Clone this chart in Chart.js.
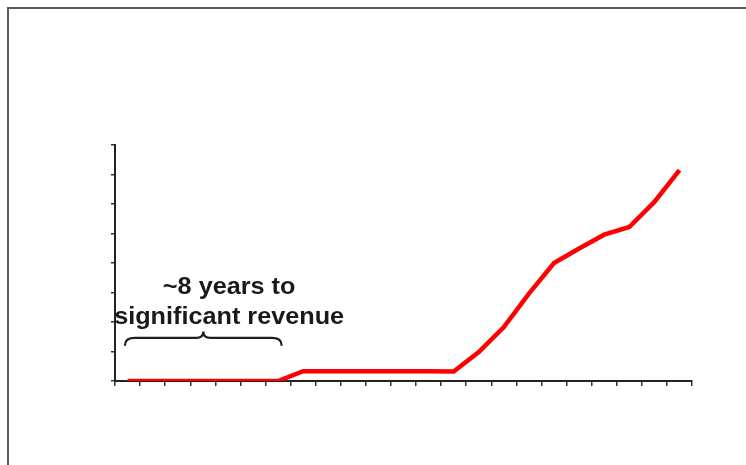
<!DOCTYPE html>
<html>
<head>
<meta charset="utf-8">
<script src="https://cdn.jsdelivr.net/npm/chart.js@4.4.1/dist/chart.umd.min.js"></script>
<style>
  html, body { margin: 0; padding: 0; background: #fff; }
  #wrap { position: relative; width: 746px; height: 465px; overflow: hidden; }
  #frame { position: absolute; left: 7px; top: 7px; width: 800px; height: 500px;
           border-left: 2px solid #5c5c5c; border-top: 2px solid #5c5c5c; }
  canvas { position: absolute; left: 0; top: 0; }
</style>
</head>
<body>
<div id="wrap">
  <div id="frame"></div>
  <canvas id="revenueChart" width="746" height="465"></canvas>
</div>
<script>
// yearly revenue curve (arbitrary units)
const years = ['1','2','3','4','5','6','7','8','9','10','11','12','13','14','15','16','17','18','19','20','21','22','23'];
const revenue = [0, 0, 0, 0, 0, 0, 0, 0.33, 0.33, 0.33, 0.33, 0.33, 0.33, 0.32, 0.98, 1.83, 2.96, 4.0, 4.49, 4.96, 5.22, 6.07, 7.15];
const yMax = 8;
const yStep = 1;
const noteLines = ['~8 years to', 'significant revenue'];
const braceFrom = 0;   // first year under the brace
const braceTo = 6;     // last year under the brace

const braceNote = {
    id: 'braceNote',
    afterDraw(chart) {
        const ctx = chart.ctx;
        const xs = chart.scales.x;
        const ys = chart.scales.y;

        // curly brace over the flat start of the curve
        const x0 = xs.getPixelForValue(braceFrom) - 2.5;
        const x1 = xs.getPixelForValue(braceTo) + 3.5;
        const xm = (x0 + x1) / 2;
        const yEnd = ys.getPixelForValue(1.22);
        const yBar = ys.getPixelForValue(1.46);
        const yTip = ys.getPixelForValue(1.68);
        ctx.save();
        ctx.strokeStyle = '#1e1e1e';
        ctx.lineWidth = 2.2;
        ctx.lineCap = 'round';
        ctx.beginPath();
        ctx.moveTo(x0, yEnd);
        ctx.quadraticCurveTo(x0, yBar, x0 + 10, yBar);
        ctx.lineTo(xm - 7, yBar);
        ctx.quadraticCurveTo(xm, yBar, xm, yTip);
        ctx.quadraticCurveTo(xm, yBar, xm + 7, yBar);
        ctx.lineTo(x1 - 10, yBar);
        ctx.quadraticCurveTo(x1, yBar, x1, yEnd);
        ctx.stroke();

        // two-line label, heavy, squeezed to the brace width
        ctx.fillStyle = '#1a1a1a';
        ctx.font = 'bold 24px "Liberation Sans", Arial, sans-serif';
        ctx.textAlign = 'center';
        ctx.textBaseline = 'alphabetic';
        const w = ctx.measureText(noteLines[1]).width;
        const sx = 230 / w;
        const cx = xs.getPixelForValue(4.05);
        noteLines.forEach((line, i) => {
            const by = ys.getPixelForValue(3 - i) + 1.5;
            ctx.save();
            ctx.translate(cx, by);
            ctx.scale(sx, 1);
            ctx.fillText(line, 0, 0);
            ctx.restore();
        });
        ctx.restore();
    }
};

new Chart(document.getElementById('revenueChart'), {
    type: 'line',
    data: {
        labels: years,
        datasets: [{
            data: revenue,
            borderColor: '#ff0000',
            borderWidth: 4.5,
            pointRadius: 0,
            tension: 0,
            fill: false
        }]
    },
    options: {
        responsive: false,
        animation: false,
        layout: { padding: { left: 111, right: 54, top: 145, bottom: 79 } },
        plugins: { legend: { display: false }, tooltip: { enabled: false } },
        scales: {
            x: {
                offset: true,
                grid: { offset: true, drawOnChartArea: false, drawTicks: true, tickLength: 5, color: '#333', lineWidth: 1.5 },
                border: { color: '#222', width: 2 },
                ticks: { display: false },
                afterFit(s) { s.height = 5; }
            },
            y: {
                min: 0,
                max: yMax,
                grid: { drawOnChartArea: false, drawTicks: true, tickLength: 4, color: '#333', lineWidth: 1.5 },
                border: { color: '#222', width: 2 },
                ticks: { display: false, stepSize: yStep },
                afterFit(s) { s.width = 4; }
            }
        }
    },
    plugins: [braceNote]
});
</script>
</body>
</html>
